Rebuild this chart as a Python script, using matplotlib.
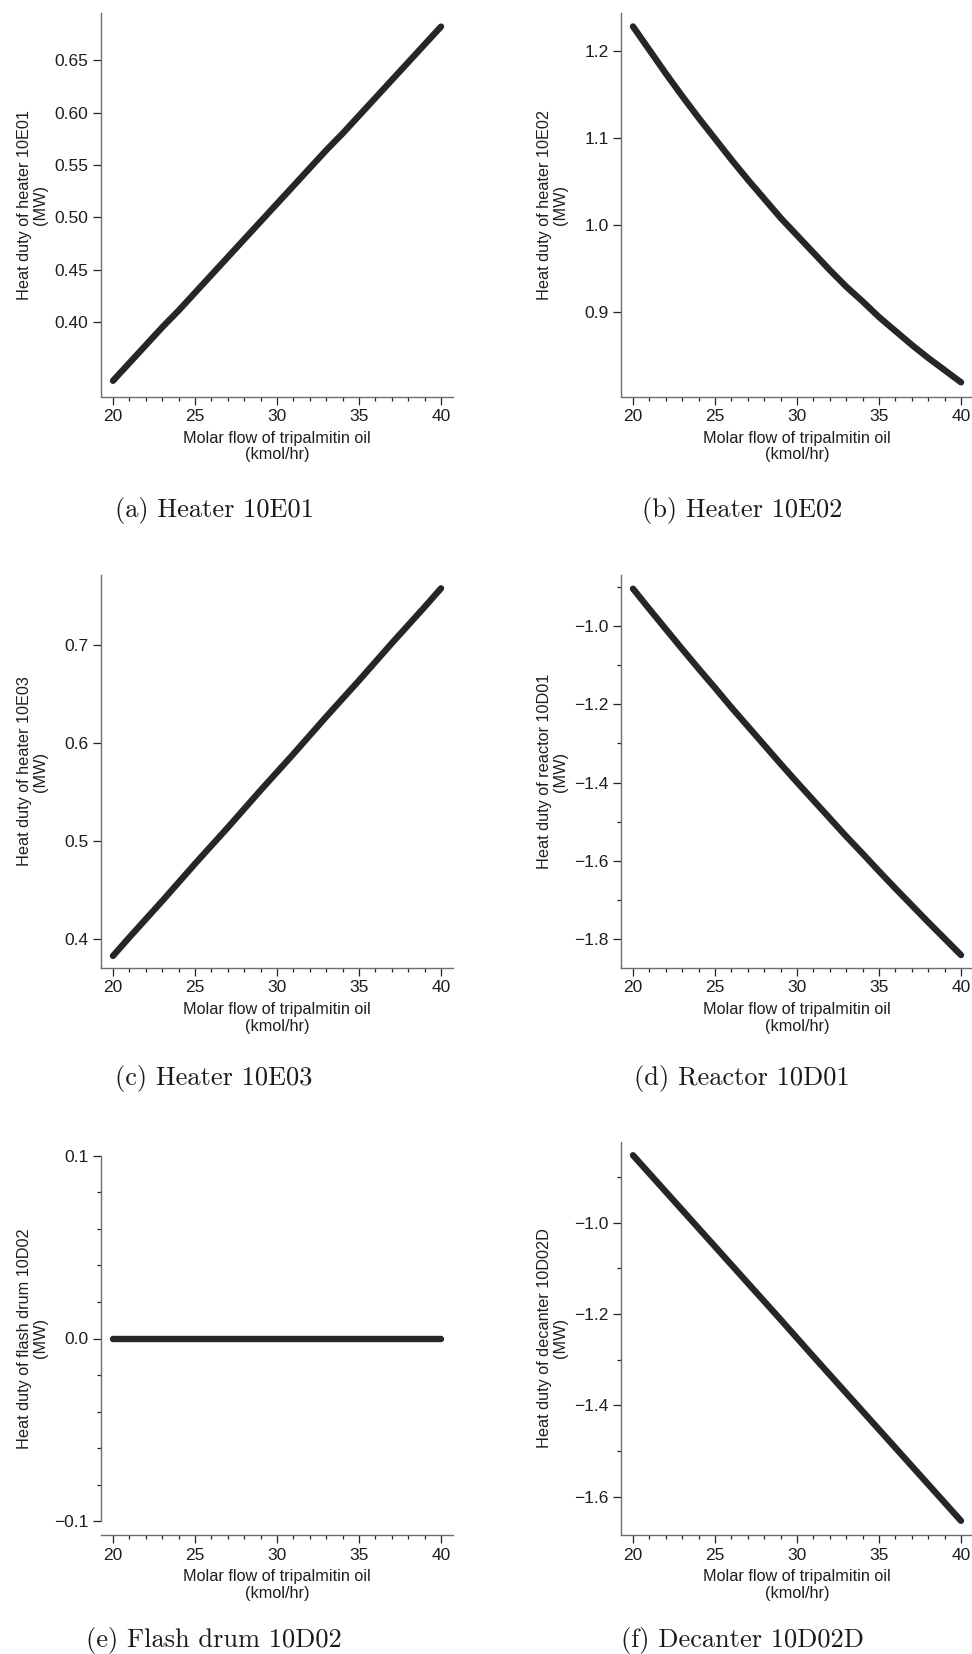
import matplotlib
matplotlib.use("Agg")
import matplotlib.pyplot as plt
from matplotlib.ticker import MultipleLocator, FixedLocator, FuncFormatter

# ---------------- data ----------------
flow = [20, 21, 22, 23, 24, 25, 26, 27, 28, 29, 30,
        31, 32, 33, 34, 35, 36, 37, 38, 39, 40]

duty_10E01 = [0.344, 0.361, 0.378, 0.395, 0.411, 0.428, 0.445, 0.462, 0.479, 0.496, 0.513,
              0.530, 0.547, 0.564, 0.580, 0.597, 0.614, 0.631, 0.648, 0.665, 0.682]
duty_10E02 = [1.228, 1.201, 1.174, 1.148, 1.123, 1.099, 1.075, 1.052, 1.030, 1.008, 0.988,
              0.968, 0.948, 0.929, 0.912, 0.894, 0.878, 0.862, 0.847, 0.833, 0.819]
duty_10E03 = [0.383, 0.402, 0.4205, 0.439, 0.458, 0.477, 0.4955, 0.514, 0.533, 0.552, 0.5705,
              0.589, 0.608, 0.627, 0.6455, 0.664, 0.683, 0.702, 0.7205, 0.739, 0.758]
duty_10D01 = [-0.905, -0.957, -1.008, -1.059, -1.109, -1.158, -1.208, -1.256, -1.304, -1.352, -1.399,
              -1.445, -1.491, -1.537, -1.581, -1.626, -1.670, -1.713, -1.756, -1.798, -1.840]
duty_10D02 = [0.0, 0.0, 0.0, 0.0, 0.0, 0.0, 0.0, 0.0, 0.0, 0.0, 0.0,
              0.0, 0.0, 0.0, 0.0, 0.0, 0.0, 0.0, 0.0, 0.0, 0.0]
duty_10D02D = [-0.852, -0.892, -0.932, -0.972, -1.012, -1.052, -1.092, -1.132, -1.172, -1.212, -1.2525,
               -1.293, -1.333, -1.373, -1.413, -1.453, -1.493, -1.533, -1.573, -1.613, -1.653]

ylabels = ["Heat duty of heater 10E01\n(MW)", "Heat duty of heater 10E02\n(MW)",
           "Heat duty of heater 10E03\n(MW)", "Heat duty of reactor 10D01\n(MW)",
           "Heat duty of flash drum 10D02\n(MW)", "Heat duty of decanter 10D02D\n(MW)"]
captions = ["(a) Heater 10E01", "(b) Heater 10E02", "(c) Heater 10E03",
            "(d) Reactor 10D01", "(e) Flash drum 10D02", "(f) Decanter 10D02D"]
xlabel = "Molar flow of tripalmitin oil\n(kmol/hr)"

series = [duty_10E01, duty_10E02, duty_10E03, duty_10D01, duty_10D02, duty_10D02D]
ylims = [(0.329, 0.695), (0.8027, 1.2435), (0.3707, 0.7716),
         (-1.873, -0.870), (-0.1075, 0.1075), (-1.684, -0.823)]
ymajor = [[0.40, 0.45, 0.50, 0.55, 0.60, 0.65], [0.9, 1.0, 1.1, 1.2],
          [0.4, 0.5, 0.6, 0.7], [-1.8, -1.6, -1.4, -1.2, -1.0],
          [-0.1, 0.0, 0.1], [-1.6, -1.4, -1.2, -1.0]]
yminor = [None, None, None, 0.1, 0.02, 0.1]
ydec = [2, 1, 1, 1, 1, 1]


def make_fmt(nd):
    def f(v, pos):
        s = f"{v:.{nd}f}"
        if s.startswith("-") and float(s) == 0:
            s = s[1:]
        return s.replace("-", "\u2212")
    return FuncFormatter(f)


# ---------------- figure ----------------
W, H = 972, 1654
fig = plt.figure(figsize=(W / 100, H / 100), dpi=100)
plt.rcParams["font.family"] = ["Liberation Sans", "DejaVu Sans"]

col_x = [101, 621]
ax_w = 352
rows = [(13, 396.5), (575, 968), (1142, 1535)]
cap_y = [510, 1079, 1641]
cap_x = [214, 742]

spine_col = "#6e6e6e"
txt_col = "#1e1e1e"

for i in range(6):
    r, c = divmod(i, 2)
    top, bot = rows[r]
    ax = fig.add_axes([col_x[c] / W, 1 - bot / H, ax_w / W, (bot - top) / H])
    ax.plot(flow, series[i], "-", color="#262626", lw=4.6,
            solid_capstyle="round", solid_joinstyle="round")
    ax.set_xlim(19.27, 40.73)
    ax.set_ylim(*ylims[i])
    for s in ("top", "right"):
        ax.spines[s].set_visible(False)
    for s in ("left", "bottom"):
        ax.spines[s].set_color(spine_col)
        ax.spines[s].set_linewidth(1.0)
    if i == 4:
        ax.spines["left"].set_bounds(-0.1, 0.1)
    ax.xaxis.set_major_locator(FixedLocator([20, 25, 30, 35, 40]))
    ax.xaxis.set_minor_locator(MultipleLocator(1))
    ax.yaxis.set_major_locator(FixedLocator(ymajor[i]))
    if yminor[i]:
        ax.yaxis.set_minor_locator(MultipleLocator(yminor[i]))
    ax.yaxis.set_major_formatter(make_fmt(ydec[i]))
    ax.tick_params(which="major", length=5.5, width=0.9, color="#222222",
                   labelsize=12.5, labelcolor=txt_col, pad=3.5)
    ax.tick_params(which="minor", length=3.2, width=0.9, color="#222222")
    ax.set_xlabel(xlabel, fontsize=11.7, color=txt_col, linespacing=1.1, labelpad=5)
    ax.set_ylabel(ylabels[i], fontsize=11.7, color=txt_col, linespacing=1.1)
    ax.yaxis.set_label_coords(-53 / ax_w, 0.5)
    ax.patch.set_alpha(0)
    fig.text(cap_x[c] / W, 1 - cap_y[r] / H, captions[i], family="cmr10",
             fontsize=19, ha="center", va="center", color="#1a1a1a")

fig.savefig("out.png", dpi=100)
